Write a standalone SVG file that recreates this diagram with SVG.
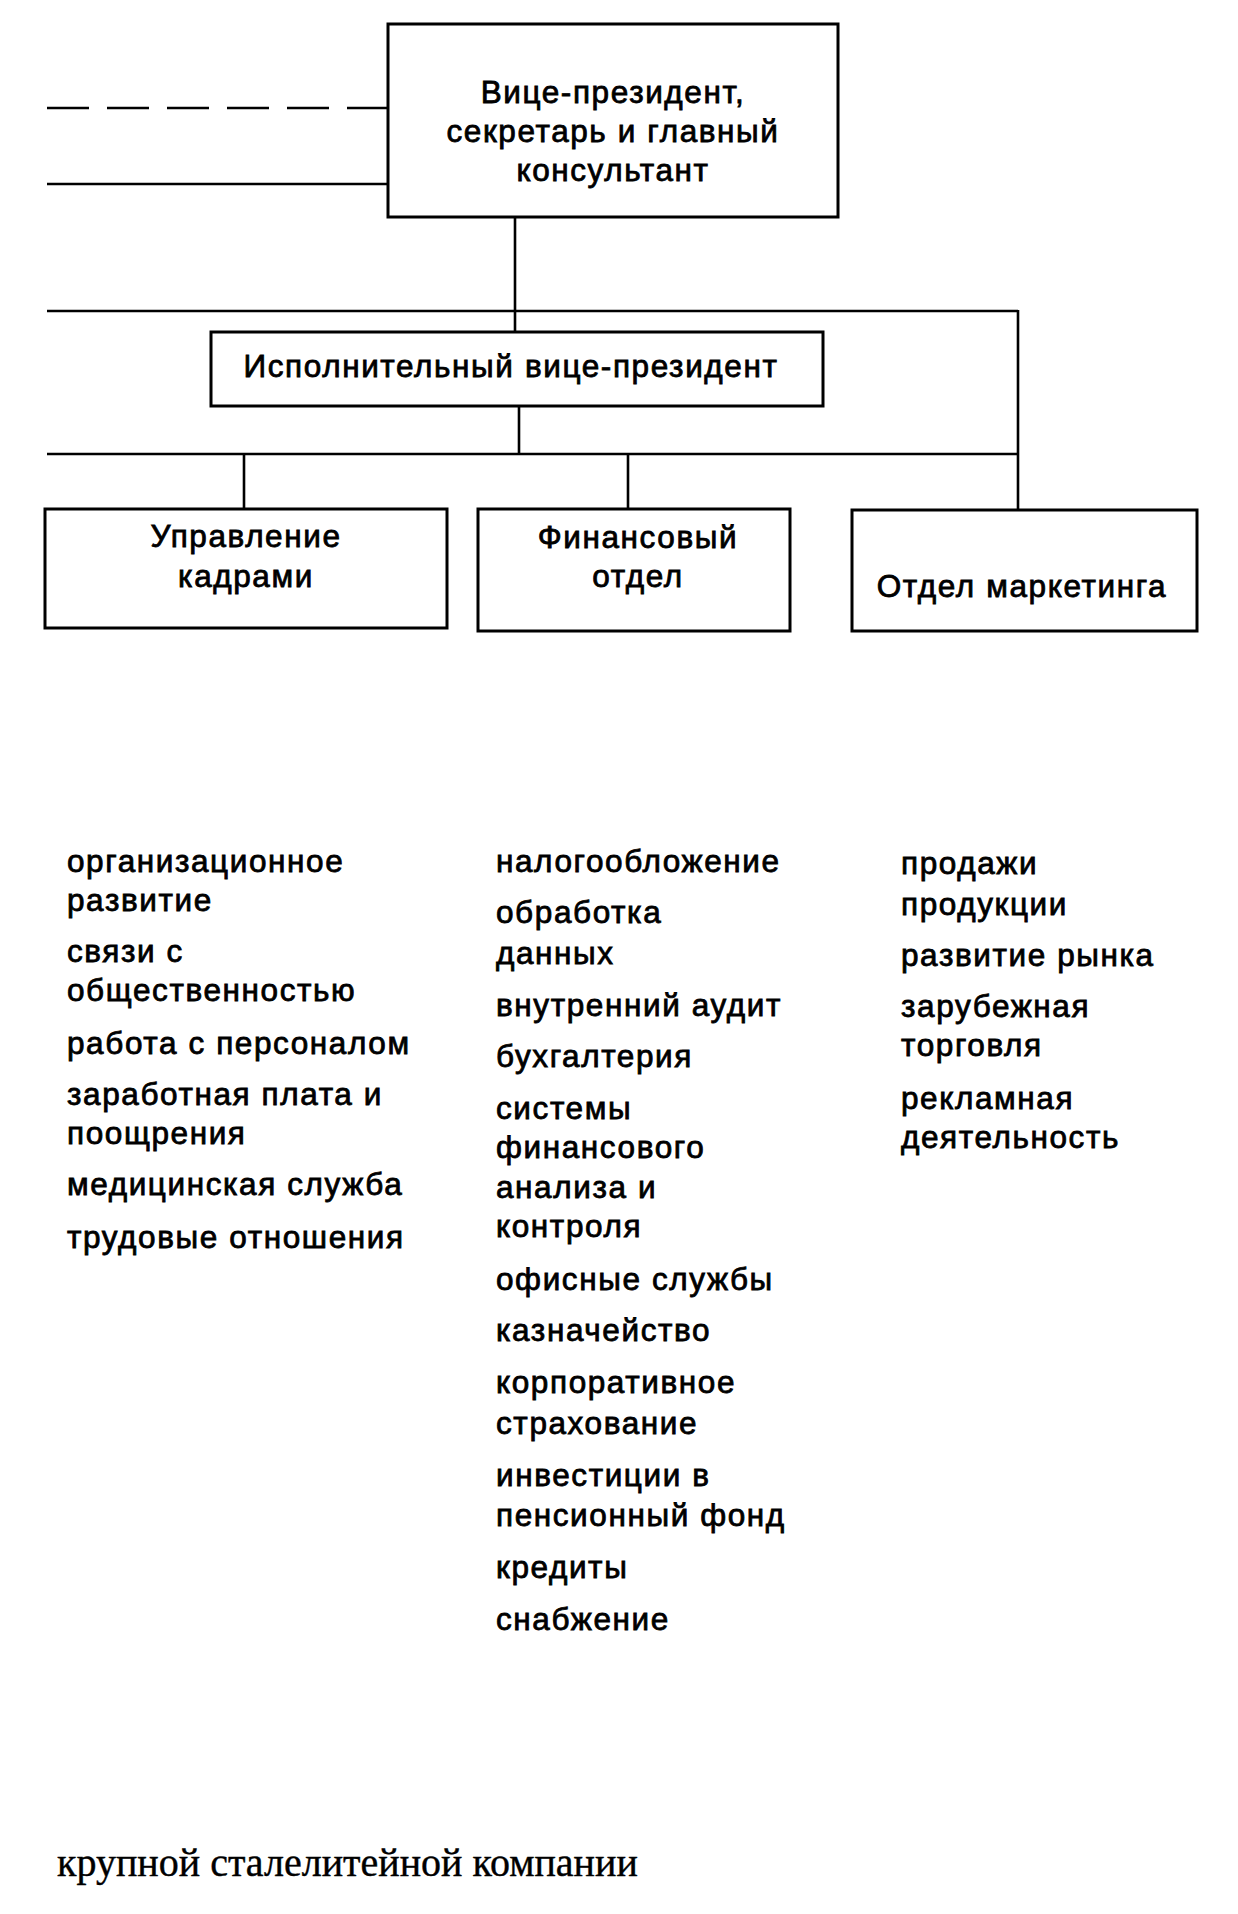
<svg xmlns="http://www.w3.org/2000/svg" width="1238" height="1914" viewBox="0 0 1238 1914">
<style>
.box{fill:#fff;stroke:#000;stroke-width:3}
.ln{fill:none;stroke:#000;stroke-width:2.6}
.t{font-family:"Liberation Sans",Arial,sans-serif;font-size:31.5px;letter-spacing:1.6px;fill:#000;stroke:#000;stroke-width:0.8}
.c{text-anchor:middle}
.cap{font-family:"Liberation Serif","Times New Roman",serif;font-size:40px;fill:#000;stroke:#000;stroke-width:0.4}
</style>
<rect width="1238" height="1914" fill="#fff"/>
<g id="connectors">
<line class="ln" x1="47" y1="108" x2="388" y2="108" stroke-dasharray="42 18"/>
<line class="ln" x1="47" y1="184" x2="388" y2="184"/>
<line class="ln" x1="515" y1="217" x2="515" y2="332"/>
<line class="ln" x1="47" y1="311" x2="1018" y2="311"/>
<line class="ln" x1="1018" y1="310" x2="1018" y2="510"/>
<line class="ln" x1="519" y1="406" x2="519" y2="454"/>
<line class="ln" x1="47" y1="454" x2="1018" y2="454"/>
<line class="ln" x1="244" y1="454" x2="244" y2="509"/>
<line class="ln" x1="628" y1="454" x2="628" y2="509"/>
</g>
<g id="vp">
<rect class="box" x="388" y="24" width="450" height="193"/>
<text class="t c" x="613" y="103">Вице-президент,</text>
<text class="t c" x="613" y="142">секретарь и главный</text>
<text class="t c" x="613" y="181">консультант</text>
</g>
<g id="exec">
<rect class="box" x="211" y="332" width="612" height="74"/>
<text class="t c" x="511" y="377">Исполнительный вице-президент</text>
</g>
<g id="hr">
<rect class="box" x="45" y="509" width="402" height="119"/>
<text class="t c" x="246" y="547">Управление</text>
<text class="t c" x="246" y="587">кадрами</text>
</g>
<g id="fin">
<rect class="box" x="478" y="509" width="312" height="122"/>
<text class="t c" x="638" y="548">Финансовый</text>
<text class="t c" x="638" y="587">отдел</text>
</g>
<g id="mkt">
<rect class="box" x="852" y="510" width="345" height="121"/>
<text class="t c" x="1022" y="597">Отдел маркетинга</text>
</g>
<g id="list-hr">
<text class="t" x="67" y="872">организационное</text>
<text class="t" x="67" y="911">развитие</text>
<text class="t" x="67" y="962">связи с</text>
<text class="t" x="67" y="1001">общественностью</text>
<text class="t" x="67" y="1054">работа с персоналом</text>
<text class="t" x="67" y="1105">заработная плата и</text>
<text class="t" x="67" y="1144">поощрения</text>
<text class="t" x="67" y="1195">медицинская служба</text>
<text class="t" x="67" y="1248">трудовые отношения</text>
</g>
<g id="list-fin">
<text class="t" x="496" y="872">налогообложение</text>
<text class="t" x="496" y="923">обработка</text>
<text class="t" x="496" y="964">данных</text>
<text class="t" x="496" y="1016">внутренний аудит</text>
<text class="t" x="496" y="1067">бухгалтерия</text>
<text class="t" x="496" y="1119">системы</text>
<text class="t" x="496" y="1158">финансового</text>
<text class="t" x="496" y="1198">анализа и</text>
<text class="t" x="496" y="1237">контроля</text>
<text class="t" x="496" y="1290">офисные службы</text>
<text class="t" x="496" y="1341">казначейство</text>
<text class="t" x="496" y="1393">корпоративное</text>
<text class="t" x="496" y="1434">страхование</text>
<text class="t" x="496" y="1486">инвестиции в</text>
<text class="t" x="496" y="1526">пенсионный фонд</text>
<text class="t" x="496" y="1578">кредиты</text>
<text class="t" x="496" y="1630">снабжение</text>
</g>
<g id="list-mkt">
<text class="t" x="901" y="874">продажи</text>
<text class="t" x="901" y="915">продукции</text>
<text class="t" x="901" y="966">развитие рынка</text>
<text class="t" x="901" y="1017">зарубежная</text>
<text class="t" x="901" y="1056">торговля</text>
<text class="t" x="901" y="1109">рекламная</text>
<text class="t" x="901" y="1148">деятельность</text>
</g>
<text class="cap" x="57" y="1876">крупной сталелитейной компании</text>
</svg>
